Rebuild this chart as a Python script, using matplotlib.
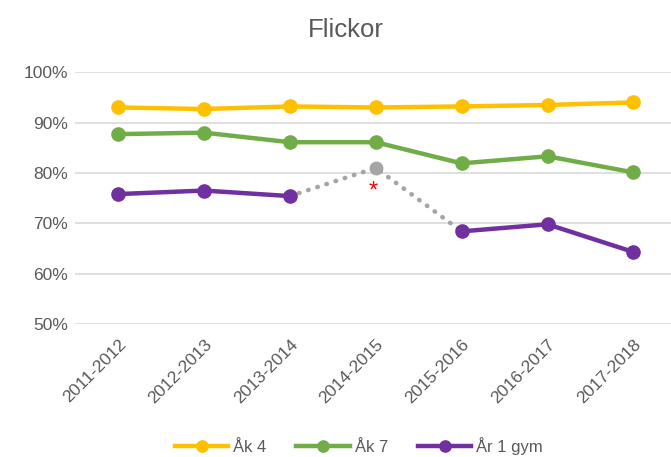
import numpy as np
import matplotlib
matplotlib.use('Agg')
import matplotlib.pyplot as plt

years = ['2011-2012', '2012-2013', '2013-2014', '2014-2015',
         '2015-2016', '2016-2017', '2017-2018']
ak4 = [93.0, 92.7, 93.2, 93.0, 93.2, 93.5, 94.0]
ak7 = [87.7, 88.0, 86.1, 86.1, 81.9, 83.3, 80.1]
ar1 = [75.8, 76.5, 75.4, np.nan, 68.4, 69.8, 64.3]
ar1_est = 81.0   # uncertain value 2014-2015, drawn grey with asterisk

plt.rcParams['font.family'] = ['Liberation Sans', 'DejaVu Sans']
txt = '#595959'

fig = plt.figure(figsize=(6.71, 4.57), dpi=100)
ax = fig.add_axes([0.112, 0.291, 0.896, 0.551])

x = np.arange(len(years))
ar1 = np.array(ar1)

# grey dotted bridge over the missing year
ax.plot([2, 3, 4], [ar1[2], ar1_est, ar1[4]], color='#A5A5A5', lw=3.3,
        linestyle=(0, (0.1, 2.0)), dash_capstyle='round', zorder=2)
ax.plot([3], [ar1_est], 'o', color='#A5A5A5', ms=9, zorder=3)
ax.text(3 - 0.03, ar1_est - 4.6, '*', color='red', ha='center', va='center',
        fontsize=17)

ax.plot(x, ak4, '-o', color='#FFC000', lw=3.2, ms=9.5, label='Åk 4', zorder=4)
ax.plot(x, ak7, '-o', color='#70AD47', lw=3.2, ms=9.5, label='Åk 7', zorder=4)
ax.plot(x, ar1, '-o', color='#7030A0', lw=3.2, ms=9.5, label='År 1 gym', zorder=4)

ax.set_xlim(-0.5, 6.5)
ax.set_ylim(50, 100)
ax.set_yticks([50, 60, 70, 80, 90, 100])
ax.set_yticklabels([f'{v}%' for v in range(50, 101, 10)])
ax.set_xticks(x)
ax.set_xticklabels(years, rotation=45, ha='right', rotation_mode='anchor')
ax.tick_params(axis='both', length=0, labelsize=12.5, colors=txt)
ax.tick_params(axis='x', pad=9)
ax.tick_params(axis='y', pad=5)
ax.grid(axis='y', color='#D9D9D9', lw=1.2)
ax.set_axisbelow(True)
for s in ax.spines.values():
    s.set_visible(False)

fig.text(0.516, 0.935, 'Flickor', ha='center', va='center', fontsize=18.5, color=txt)

fig.legend(loc='center', bbox_to_anchor=(0.535, 0.025), ncol=3, frameon=False,
           fontsize=12, handlelength=3.2, columnspacing=1.8, handletextpad=0.3,
           labelcolor=txt, markerscale=0.85)

fig.savefig('out.png', dpi=100)
